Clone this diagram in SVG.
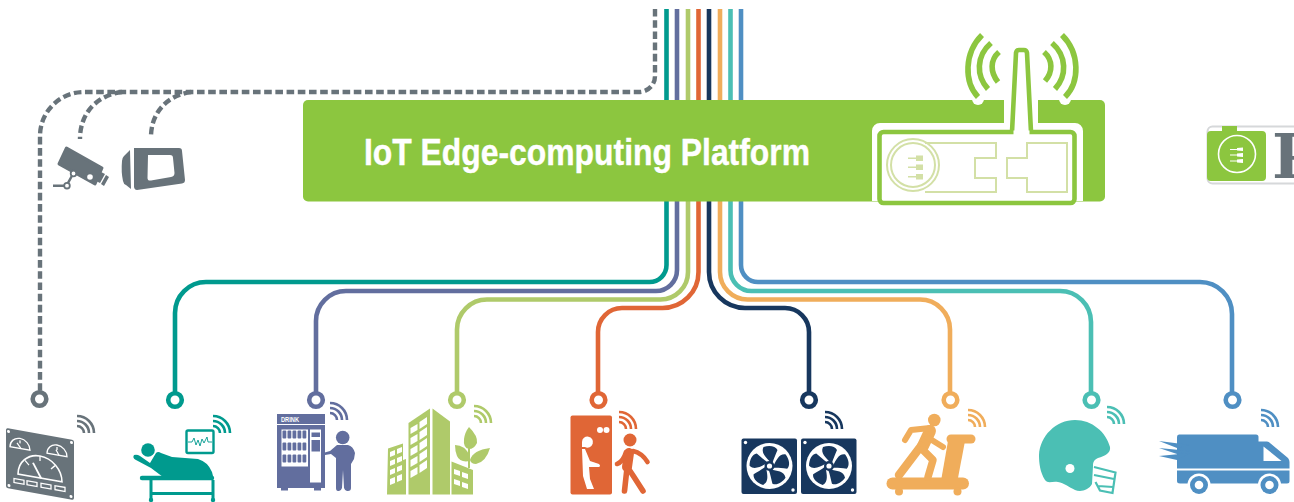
<svg xmlns="http://www.w3.org/2000/svg" xmlns:xlink="http://www.w3.org/1999/xlink" width="1294" height="502" viewBox="0 0 1294 502">
<style>
.ln{fill:none;stroke-width:4.6}
.dash{fill:none;stroke:#68737a;stroke-width:4.4;stroke-dasharray:7.6 3.6}
.ring{fill:#fff;stroke-width:4.6}
.wf{fill:none;stroke:currentColor;stroke-width:2.6}
.pale{fill:none;stroke:#d3e0a6;stroke-width:2}
.w{fill:#fff}
.ws{fill:none;stroke:#fff}
.lab{font-family:"Liberation Sans",Arial,sans-serif;font-weight:700}
</style>
<defs>
<g id="wifi"><path class="wf" d="M0,-17A17,17 0 0 1 17,0M0,-12A12,12 0 0 1 12,0M0,-7A7,7 0 0 1 7,0"/></g>
<g id="blades"><path id="b0" d="M1,-4C-3,-8 -9,-13 -6,-19C0,-21 6,-20 8,-16C6,-11 4,-7 3,-3Z"/>
<use xlink:href="#b0" transform="rotate(72)"/><use xlink:href="#b0" transform="rotate(144)"/><use xlink:href="#b0" transform="rotate(216)"/><use xlink:href="#b0" transform="rotate(288)"/></g>
</defs>

<g id="connectors">
<path class="ln" stroke="#009a8e" d="M666.500 9V265A17 17 0 0 1 649.500 282H206A31 31 0 0 0 175 313V394"/>
<path class="ln" stroke="#626e9e" d="M677 9V270A21 21 0 0 1 656 291H346A30 30 0 0 0 316 321V394"/>
<path class="ln" stroke="#afca6a" d="M688 9V272A27.500 27.500 0 0 1 660.500 299.500H487A30 30 0 0 0 457 329.500V394"/>
<path class="ln" stroke="#e06636" d="M698.500 9V272A36 36 0 0 1 662.500 308H622A24 24 0 0 0 598 332V394"/>
<path class="ln" stroke="#17375e" d="M709 9V272A36 36 0 0 0 745 308H785A24 24 0 0 1 809 332V394"/>
<path class="ln" stroke="#f0ad5b" d="M720 9V272A27.500 27.500 0 0 0 747.500 299.500H920A30 30 0 0 1 950 329.500V394"/>
<path class="ln" stroke="#4bbfb4" d="M730.500 9V270A21 21 0 0 0 751.500 291H1060A31 31 0 0 1 1091 322V394"/>
<path class="ln" stroke="#4f8fc3" d="M741 9V265A17 17 0 0 0 758 282H1200A32 32 0 0 1 1232 314V394"/>
<path class="dash" d="M655 9V76A16 16 0 0 1 639 92H84A44 44 0 0 0 40 136V392"/>
<path class="dash" d="M122 92C98 95 80 112 80 139"/>
<path class="dash" d="M191 92C168 95 151 112 151 137"/>
<circle class="ring" stroke="#68737a" cx="39.500" cy="399" r="6.800"/>
<circle class="ring" stroke="#009a8e" cx="175" cy="400" r="6.800"/>
<circle class="ring" stroke="#626e9e" cx="316" cy="400" r="6.800"/>
<circle class="ring" stroke="#afca6a" cx="457" cy="400" r="6.800"/>
<circle class="ring" stroke="#e06636" cx="598.500" cy="400" r="6.800"/>
<circle class="ring" stroke="#17375e" cx="809" cy="400" r="6.800"/>
<circle class="ring" stroke="#f0ad5b" cx="950.500" cy="400" r="6.800"/>
<circle class="ring" stroke="#4bbfb4" cx="1091.500" cy="400" r="6.800"/>
<circle class="ring" stroke="#4f8fc3" cx="1232.500" cy="400" r="6.800"/>
</g>

<g id="platform">
<rect x="303" y="100" width="802" height="101.500" rx="5" fill="#8cc63f"/>
<text class="lab" x="364" y="165" font-size="37" fill="#fff" stroke="#fff" stroke-width="0.4" textLength="446" lengthAdjust="spacingAndGlyphs">IoT Edge-computing Platform</text>
</g>

<g id="gateway">
<path class="w" d="M880,123H1004V100H1038V123H1075A8,8 0 0 1 1083,131V201H872V131A8,8 0 0 1 880,123Z"/>
<circle class="w" cx="978" cy="99" r="6"/><circle class="w" cx="1065" cy="99" r="6"/>
<rect x="879.500" y="132" width="195" height="71" rx="4" fill="#fff" stroke="#8cc63f" stroke-width="4.600"/>
<path d="M1012,132L1016,53Q1016.500,50 1019,50H1024Q1026.500,50 1027,53L1031,132" fill="#fff" stroke="#8cc63f" stroke-width="4.600" stroke-linejoin="round"/>
<rect x="1013.500" y="130.500" width="16" height="4.500" fill="#fff"/>
<g fill="none" stroke="#8cc63f" stroke-width="5.600">
<path d="M982,35C964,53 964,82 978,97"/>
<path d="M991,43C976,56 976,76 988,89"/>
<path d="M999,52C990,60 990,72 998,82"/>
<path d="M1062,35C1080,53 1080,82 1065,97"/>
<path d="M1052,43C1067,56 1067,76 1055,89"/>
<path d="M1044,52C1053,60 1053,72 1045,81"/>
</g>
<circle class="pale" cx="913" cy="165" r="26"/><circle class="pale" cx="913" cy="165" r="22"/>
<path class="pale" d="M925,143H996V158H975V178H996V192H925"/>
<path class="pale" d="M1027,143H1067V192H1027V178H1007V158H1027Z"/>
<g fill="#d3e0a6"><rect x="908" y="157.500" width="9" height="1.500"/><rect x="908" y="166.500" width="9" height="1.500"/><rect x="908" y="176" width="9" height="1.500"/><rect x="916" y="155.500" width="7" height="5.500"/><rect x="916" y="164.500" width="7" height="5.500"/><rect x="916" y="174" width="7" height="5.500"/></g>
</g>

<g id="camera" fill="#68737a">
<path d="M66.500,148L102,168L95,184L59,164Z" stroke="#68737a" stroke-width="3" stroke-linejoin="round"/>
<circle class="w" cx="90" cy="177" r="2.800"/>
<path d="M101,172L105,174L100,183L96,181ZM106,175L109,177L104,186L101,184Z"/>
<path d="M53,185.700H66.500L73.500,173" fill="none" stroke="#68737a" stroke-width="2.400"/>
<circle cx="67" cy="185.700" r="2.800" fill="#fff" stroke="#68737a" stroke-width="1.800"/>
<circle cx="73.500" cy="173.500" r="2.800" fill="#fff" stroke="#68737a" stroke-width="1.800"/>
</g>

<g id="tablet" fill="#68737a">
<path d="M134,148H179Q182,148 182,151L185,180Q185,183 182,183.500L137,190Q134.500,190 134,187Z"/>
<path d="M130,150L124,156Q122,158 122,161Q121,172 123,181Q123.500,184 126,185L131,189Z"/>
<path class="w" d="M148,155H170Q173,155 173,158L174.500,173Q174.500,176.500 171,177L151,180.500Q147.500,181 147.500,178Z"/>
</g>

<g id="badge">
<rect x="1207.500" y="126.500" width="100" height="57" rx="5" fill="#fff" stroke="#d6d8da" stroke-width="2"/>
<path d="M1222,126H1237V131H1262Q1266,131 1266,135V177Q1266,181 1262,181H1211Q1207,181 1207,177V135Q1207,131 1211,131H1222Z" fill="#8cc63f"/>
<circle cx="1237" cy="154" r="18.500" fill="none" stroke="#fff" stroke-width="1.600"/>
<path d="M1230,149.500H1237M1230,155H1237M1230,161H1237" stroke="#fff" stroke-width="1.200" fill="none"/>
<path class="w" d="M1237,148L1243,147.500V151L1237,150.500ZM1237,153.500L1243,153V157L1237,156.500ZM1237,159.500L1243,159V163L1237,162.500Z"/>
<text x="1272" y="178" font-family="'DejaVu Serif',serif" font-weight="700" font-size="62" fill="#68737a">P</text>
</g>

<g id="gauges">
<use xlink:href="#wifi" x="77" y="433" color="#68737a"/>
<g transform="translate(6,428) skewY(10)">
<rect x="0" y="0" width="68" height="60" rx="2" fill="#68737a"/>
<g class="w"><circle cx="2.500" cy="3" r="1.500"/><circle cx="65.500" cy="3" r="1.500"/><circle cx="3" cy="57" r="1.500"/><circle cx="65" cy="57" r="1.500"/></g>
<g class="ws" stroke-width="1.300">
<path d="M12,44A22,22 0 0 1 56,44Z" stroke-width="1.600"/>
<path d="M27,30L35,44" stroke-width="2"/>
<path d="M34,22V27M19,29L23,33M49,29L45,33"/>
<path d="M4,18A10,10 0 0 1 24,18ZM41,18A10,10 0 0 1 61,18Z"/>
<path d="M11,13L15,18M14,10V13M50,13L53,18M51,10V13"/>
<rect x="8" y="49" width="10" height="4"/><rect x="21" y="49" width="10" height="4"/><rect x="35" y="49" width="10" height="4"/><rect x="49" y="49" width="10" height="4"/>
</g>
</g>
</g>

<g id="patient" fill="#009a8e">
<use xlink:href="#wifi" x="213" y="433" color="#009a8e"/>
<rect x="186.500" y="430.500" width="27" height="22.500" rx="1.500" fill="#fff" stroke="#009a8e" stroke-width="2.400"/>
<path fill="none" stroke="#009a8e" stroke-width="0.900" d="M188,442H192L194,438L196,445L198,440L200,446L202,439L204,443L207,437L208,442H212"/>
<circle cx="148" cy="450" r="6.800"/>
<path d="M134,455Q137,454 140,456L150,463L156,453Q158,451 161,453L172,457L198,459Q208,462 212,472L213,476Q213,478 210,477H163L151,468L136,460Q132,458 134,455Z"/>
<path d="M142,478H212" stroke="#009a8e" stroke-width="4.400" stroke-linecap="round"/>
<path d="M151,480V500M213,480V500M151,493.500H213" stroke="#009a8e" stroke-width="3" fill="none"/>
<circle cx="151" cy="500" r="2.200"/><circle cx="213" cy="500" r="2.200"/>
</g>

<g id="vending" fill="#626e9e">
<use xlink:href="#wifi" x="330" y="420" color="#626e9e"/>
<rect x="277" y="414" width="48" height="10"/>
<text class="lab" x="281" y="421.800" font-size="6.600" fill="#fff" textLength="18" lengthAdjust="spacingAndGlyphs">DRINK</text>
<rect x="277" y="425" width="48" height="63"/>
<rect x="281" y="488" width="7" height="2.500"/><rect x="314" y="488" width="7" height="2.500"/>
<rect class="w" x="281.500" y="429.500" width="26.500" height="37"/>
<rect class="w" x="310" y="429.500" width="11" height="53"/>
<rect x="311.500" y="432.500" width="8.500" height="4.500"/><rect x="311.500" y="440" width="8.500" height="11.500"/><rect class="w" x="313" y="454" width="2" height="7"/>
<g id="shelf">
<rect x="282.500" y="430.500" width="3.800" height="8" rx="1"/><rect x="287.500" y="430.500" width="3.800" height="8" rx="1"/><rect x="292.500" y="430.500" width="3.800" height="8" rx="1"/><rect x="297.500" y="430.500" width="3.800" height="8" rx="1"/><rect x="302.500" y="430.500" width="3.800" height="8" rx="1"/>
<rect x="282.500" y="442.500" width="3.800" height="8" rx="1"/><rect x="287.500" y="442.500" width="3.800" height="8" rx="1"/><rect x="292.500" y="442.500" width="3.800" height="8" rx="1"/><rect x="297.500" y="442.500" width="3.800" height="8" rx="1"/><rect x="302.500" y="442.500" width="3.800" height="8" rx="1"/>
<rect x="282.500" y="454.500" width="3.800" height="8" rx="1"/><rect x="287.500" y="454.500" width="3.800" height="8" rx="1"/><rect x="292.500" y="454.500" width="3.800" height="8" rx="1"/><rect x="297.500" y="454.500" width="3.800" height="8" rx="1"/><rect x="302.500" y="454.500" width="3.800" height="8" rx="1"/>
</g>
<circle cx="342.700" cy="437.500" r="6.800"/>
<path d="M337,445H348Q353,446 355,453L354,459L351,464V488Q351,491 348,491H347Q345,491 344,488L343,470L342,488Q341,491 339,491H338Q336,491 336,488V458L331,454L325,455L323,453L330,451Z"/>
</g>

<g id="buildings" fill="#afca6a">
<use xlink:href="#wifi" x="474" y="423" color="#afca6a"/>
<path d="M408.500,423L430,408.500V494.500H408.500Z"/>
<path d="M432.500,408.500L450,421.500V494.500H432.500Z"/>
<path d="M388,448.500L403,443.500V460L406,459V494.500H387Z"/>
<path d="M451.500,461.500L473,470V494.500H451.500Z"/>
<g class="w">
<path d="M410.500,428L417.500,424V430L410.500,434ZM419.500,422L427,417V424L419.500,429ZM410.500,438L417.500,434V441L410.500,445ZM419.500,432L427,427V435L419.500,440ZM410.500,449L417.500,445V452L410.500,456ZM419.500,443L427,438V446L419.500,451ZM410.500,460L417.500,456V463L410.500,467ZM419.500,454L427,449V457L419.500,462ZM410.500,471L417.500,467V474L410.500,478ZM419.500,465L427,460V468L419.500,473Z"/>
<path d="M390,452L395,450V455L390,457ZM397,449L402,447V452L397,454ZM390,461L395,459V464L390,466ZM397,458L402,456V461L397,463ZM390,470L395,468V473L390,475ZM397,467L402,465V470L397,472ZM390,479L395,477V483L390,485ZM397,476L402,474V480L397,482Z"/>
<path d="M454,469L460,471V476L454,474ZM462,472L468,474V479L462,477ZM454,479L460,481V486L454,484ZM462,482L468,484V489L462,487Z"/>
</g>
<path d="M469,468V445" stroke="#afca6a" stroke-width="2" fill="none"/>
<path d="M469,427Q478,436 477,443Q474,449 469,449Q463,448 464,439Q465,432 469,427Z"/>
<path d="M455,445Q465,445 470,456V461Q460,463 457,456Q455,451 455,445Z"/>
<path d="M490,448Q486,462 476,464Q471,464 470,460Q473,450 490,448Z"/>
</g>

<g id="door" fill="#e06636">
<use xlink:href="#wifi" x="619" y="429" color="#e06636"/>
<rect x="570.500" y="415.500" width="41.500" height="79" rx="2"/>
<g class="w"><circle cx="600" cy="430" r="3"/><circle cx="606.500" cy="430" r="3"/>
<path d="M582,442A5.500,5.500 0 1 1 585,447H582Z"/>
<path d="M582,449H585L590,461L599,464Q601,466 599,467L589,467L590,479L594,489H587L583,476Z"/></g>
<circle cx="630" cy="440" r="6.500"/>
<g fill="none" stroke="#e06636" stroke-linecap="round" stroke-linejoin="round">
<path d="M629,453L627,467" stroke-width="10"/>
<path d="M626,452Q623,462 617,464" stroke-width="4.600"/>
<path d="M633,451Q642,453 647.500,462" stroke-width="4.600"/>
<path d="M627,468L624.500,491" stroke-width="5.600"/>
<path d="M628,468L634,477L643,491" stroke-width="5.600"/>
</g>
</g>

<g id="fans">
<use xlink:href="#wifi" x="825" y="429" color="#17375e"/>
<g fill="#17375e">
<rect x="741.500" y="438.500" width="55.500" height="55.500" rx="2"/>
<rect x="801" y="438.500" width="55.500" height="55.500" rx="2"/>
</g>
<g class="w">
<circle cx="769.500" cy="466" r="23"/><circle cx="829" cy="466" r="23"/>
<circle cx="745.500" cy="442.500" r="1.700"/><circle cx="793" cy="490" r="1.700"/><circle cx="805" cy="442.500" r="1.700"/><circle cx="852.500" cy="490" r="1.700"/>
</g>
<g fill="#17375e"><use xlink:href="#blades" transform="translate(769.500 466)"/><use xlink:href="#blades" transform="translate(829 466)"/>
<circle cx="769.500" cy="466" r="5"/><circle cx="829" cy="466" r="5"/></g>
<g class="w"><circle cx="769.500" cy="466" r="2.600"/><circle cx="829" cy="466" r="2.600"/></g>
</g>

<g id="treadmill" fill="#f0ad5b">
<use xlink:href="#wifi" x="968" y="427" color="#f0ad5b"/>
<circle cx="934.300" cy="420" r="6.300"/>
<path d="M892.500,483.500H963" stroke="#f0ad5b" stroke-width="12" stroke-linecap="round"/>
<circle cx="899" cy="491.500" r="4"/><circle cx="957.500" cy="491.500" r="4"/>
<path d="M951,439H971" stroke="#f0ad5b" stroke-width="9" stroke-linecap="round"/>
<path d="M948,441H965L958,478H941.500Z"/>
<g fill="none" stroke="#f0ad5b" stroke-linecap="round" stroke-linejoin="round">
<path d="M930,431L923,446" stroke-width="12"/>
<path d="M905,440L911,430L930,428" stroke-width="6"/>
<path d="M927,437L943,447" stroke-width="6"/>
<path d="M921,446L899,475" stroke-width="8.500"/>
<path d="M923,450L933,460L928,477" stroke-width="7.500"/>
</g>
</g>

<g id="helmet" fill="#4bbfb4">
<use xlink:href="#wifi" x="1107" y="424" color="#4bbfb4"/>
<path d="M1075,420C1092,420 1106,432 1110,447C1111,453 1105,456 1098,458C1094,460 1093,462 1093,466L1092,484C1088,491 1080,492 1075,490C1069,487 1064,483 1058,482C1052,481 1048,484 1045,480C1040,472 1039,463 1039,455C1040,436 1056,420 1075,420Z"/>
<circle class="w" cx="1070" cy="468.500" r="4.500"/>
<path d="M1094,467L1115.500,472.500L1112.500,493L1100,490.500L1095.500,482M1094,475L1114,479M1098,486L1113,487" fill="none" stroke="#4bbfb4" stroke-width="2.200"/>
</g>

<g id="van" fill="#4f8fc3">
<use xlink:href="#wifi" x="1261" y="427" color="#4f8fc3"/>
<path d="M1179,434.500H1256Q1258.500,434.500 1258.500,437V441.500H1267Q1269,441.500 1270,443L1288,458Q1289.500,460 1289.500,462V468.500H1177V437Q1177,434.500 1179,434.500Z"/>
<path class="w" d="M1263.500,446.500L1281.500,461H1263.500Z"/>
<path d="M1177,470.500H1289.500V481Q1289.500,483.500 1287,483.500H1180Q1177,483.500 1177,481Z"/>
<path d="M1159,441L1190,445L1177,448ZM1159,448L1190,451L1177,454ZM1159,456L1190,453L1177,460Z"/>
<g class="w"><circle cx="1199" cy="485" r="11.500"/><circle cx="1269.500" cy="485" r="11.500"/></g>
<circle cx="1199" cy="485" r="9"/><circle cx="1269.500" cy="485" r="9"/>
<g class="w"><circle cx="1199" cy="485" r="4.300"/><circle cx="1269.500" cy="485" r="4.300"/></g>
</g>
</svg>
